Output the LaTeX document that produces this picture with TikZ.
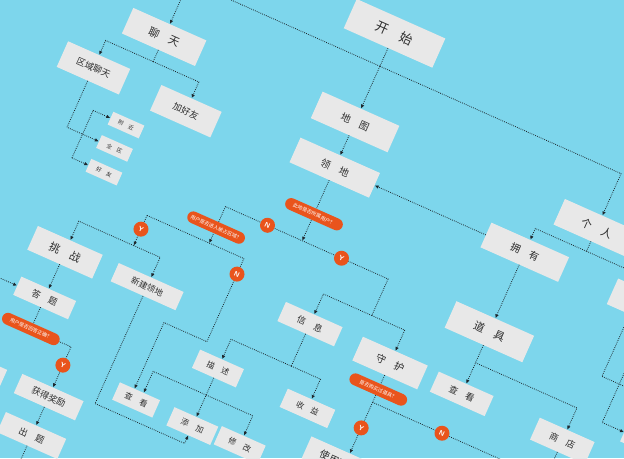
\documentclass[tikz,border=0pt]{standalone}
\usepackage{fontspec}
\setmainfont{Noto Sans CJK SC}
\usetikzlibrary{arrows.meta}
\definecolor{tianlan}{RGB}{125,214,236}
\definecolor{huibai}{RGB}{232,232,232}
\definecolor{juhong}{RGB}{233,84,28}
\definecolor{shenhui}{RGB}{45,45,45}
\definecolor{xianse}{RGB}{30,40,46}
\newcommand\zigap{\hspace{1em}}
\tikzset{
  kuang/.style n args={3}{fill=huibai,inner sep=0pt,text=shenhui,minimum width=#1pt,minimum height=#2pt,font=\fontsize{#3}{#3}\selectfont},
  pill/.style={fill=juhong,rounded corners=6pt,inner sep=0pt,minimum width=62pt,minimum height=12pt,text=white,font=\fontsize{5}{5}\selectfont},
  yn/.style={circle,fill=juhong,inner sep=0pt,minimum size=15pt,text=white,font=\sffamily\bfseries\fontsize{7}{7}\selectfont},
  link/.style={draw=xianse,line width=0.8pt,dash pattern=on 0.8pt off 1.2pt},
  arr/.style={link,-{Latex[length=4pt,width=3.6pt]}},
}
\begin{document}
\begin{tikzpicture}[x=1pt,y=1pt]
\useasboundingbox(0,-458)rectangle(624,0);
\clip(0,-458)rectangle(624,0);
\fill[tianlan](0,-458)rectangle(624,0);
\begin{scope}[transform canvas={rotate=-24}]
  %判断框与Y/N的位置
  \coordinate(cq1)at(374,-68);
  \coordinate(cq2)at(290,-120);
  \coordinate(cq3)at(162,-288);
  \coordinate(cq4)at(504,-202);
  \coordinate(cn1)at(336,-97);
  \coordinate(cy1)at(417,-97);
  \coordinate(cn2)at(328,-154);
  \coordinate(cy2)at(222,-152);
  \coordinate(cy3)at(206,-308);
  \coordinate(cy4)at(504,-244);
  \coordinate(cn4)at(580,-216);
  %分叉点
  \coordinate(cb0)at(374,94);
  \coordinate(cb1)at(165,6);
  \coordinate(cf)at(130,-115);
  \coordinate(cj1)at(468,-137);
  \coordinate(cb2)at(222,-137);
  \coordinate(cb3)at(222,-170);
  \coordinate(cl1)at(281,-228);
  \coordinate(cb4)at(415,-216);
  \coordinate(cb5)at(349,-277);
  \coordinate(cb6)at(504,-216);
  \coordinate(cb7)at(638,9);
  \coordinate(cb8)at(582,-138);
  \coordinate(cb9)at(251,-330);
  \coordinate(ra)at(742,-99);
  \coordinate(lin)at(60,-254);

  %方框
  \node[kuang={97}{32}{13}](kaishi)at(374,130){开\zigap 始};
  \node[kuang={80}{28}{11}](liaotian)at(165,33){聊\zigap 天};
  \node[kuang={68}{28}{9}](quyu)at(113,-24){区域聊天};
  \node[kuang={66}{28}{9}](jiahaoyou)at(215,-26){加好友};
  \node[kuang={34}{14}{5.5}](fujin)at(166,-63){附\zigap 近};
  \node[kuang={34}{14}{5.5}](quanqu)at(165,-89){全\zigap 区};
  \node[kuang={34}{14}{5.5}](haoyou)at(165,-115){好\zigap 友};
  \node[kuang={84}{29}{10}](ditu)at(374,33){地\zigap 图};
  \node[kuang={87}{27}{10}](lingdi)at(374,-17){领\zigap 地};
  \node[kuang={82}{28}{11}](geren)at(638,34){个\zigap 人};
  \node[kuang={85}{27}{10}](yongyou)at(582,-17){拥\zigap 有};
  \node[kuang={84}{28}{10}](r1)at(720,-17){};
  \node[kuang={85}{29}{11}](daoju)at(582,-104){道\zigap 具};
  \node[kuang={60}{22}{9}](chakan2)at(582,-172){查\zigap 看};
  \node[kuang={60}{24}{9}](shangdian)at(693,-174){商\zigap 店};
  \node[kuang={48}{20}{8}](rb)at(770,-141){};
  \node[kuang={62}{21}{9}](xinxi)at(415,-170){信\zigap 息};
  \node[kuang={71}{26}{10}](shouhu)at(504,-173){守\zigap 护};
  \node[kuang={52}{20}{8}](shouyi)at(447,-248){收\zigap 益};
  \node[kuang={48}{20}{8}](miaoshu)at(349,-248){描\zigap 述};
  \node[kuang={48}{20}{8}](tianjia)at(349,-311){添\zigap 加};
  \node[kuang={48}{20}{8}](xiugai)at(400,-309){修\zigap 改};
  \node[kuang={44}{19}{8}](chakan1)at(287,-310){查\zigap 看};
  \node[kuang={71}{20}{8.5}](xinjian)at(251,-202){新建领地};
  \node[kuang={71}{26}{11}](tiaozhan)at(162,-204){挑\zigap 战};
  \node[kuang={60}{20}{9}](dati)at(162,-254){答\zigap 题};
  \node[kuang={67}{21}{9}](jiangli)at(206,-343){获得奖励};
  \node[kuang={66}{22}{9}](chuti)at(206,-385){出\zigap 题};
  \node[kuang={70}{24}{10}](shiyong)at(497,-284){使用道具};
  \node[kuang={70}{20}{9}](l1)at(122,-345){};

  %开始
  \path[draw,arr](kaishi.south)to(ditu.north);
  \path[draw,arr](cb0)-|(liaotian.north);
  \path[draw,arr](cb0)-|(geren.north);
  %聊天
  \path[draw,link](liaotian.south)--(cb1);
  \path[draw,arr](cb1)-|(quyu.north);
  \path[draw,arr](cb1)-|(jiahaoyou.north);
  \path[draw,arr](quyu.south)|-(quanqu.west);
  \path[draw,arr](cf)|-(fujin.west);
  \path[draw,arr](cf)--(haoyou.west);
  %领地
  \path[draw,arr](ditu.south)to(lingdi.north);
  \path[draw,arr](lingdi.south)--(lingdi.south|-cn1);
  \path[draw,arr](cn1)-|(cq2)--(cq2|-cb2);
  \path[draw,link](cn1)--(cy1)-|(cj1);
  \path[draw,arr](cj1)-|(xinxi.north);
  \path[draw,arr](cj1)-|(shouhu.north);
  %被占区域
  \path[draw,link](cb2)--(cb2-|cn2);
  \path[draw,arr](cb2-|cn2)--(cn2)|-(cl1)--([xshift=-6pt]chakan1.north);
  \path[draw,arr](cb2)--(cy2)--(cb3);
  \path[draw,arr](cb3)-|(tiaozhan.north);
  \path[draw,arr](cb3)-|(xinjian.north);
  \path[draw,arr](xinjian.south)--(cb9)-|(tianjia.south);
  %信息
  \path[draw,link](xinxi.south)--(cb4);
  \path[draw,arr](cb4)-|(miaoshu.north);
  \path[draw,arr](cb4)-|(shouyi.north);
  \path[draw,arr](miaoshu.south)to(tianjia.north);
  \path[draw,arr](cb5)-|([xshift=4pt]chakan1.north);
  \path[draw,arr](cb5)-|(xiugai.north);
  %守护
  \path[draw,link](shouhu.south)--(cb6);
  \path[draw,arr](cb6)--(cb6|-shiyong.north);
  \path[draw,link](cb6)-|(shangdian.south);
  %个人
  \path[draw,link](geren.south)--(cb7);
  \path[draw,arr](cb7)-|(yongyou.north);
  \path[draw,arr](cb7)-|(r1.north);
  \path[draw,arr](yongyou.west)to(lingdi.east);
  \path[draw,arr](yongyou.south)to(daoju.north);
  \path[draw,arr](daoju.south)to(chakan2.north);
  \path[draw,arr](cb8)-|(shangdian.north);
  \path[draw,arr]([xshift=-17pt]r1.south)|-(ra);
  \path[draw,arr]([xshift=2pt]r1.south)|-(rb.west);
  %挑战
  \path[draw,arr](lin)to(dati.west);
  \path[draw,arr](tiaozhan.south)to(dati.north);
  \path[draw,arr](dati.south)--(cq3)-|(jiangli.north);
  \path[draw,arr](jiangli.south)to(chuti.north);
  \path[draw,link](chuti.south)--++(0,-40);

  %判断
  \node[pill](q1)at(cq1){此地是否所属用户？};
  \node[pill](q2)at(cq2){用户是否进入被占区域？};
  \node[pill](q3)at(cq3){用户是否回答正确？};
  \node[pill](q4)at(cq4){是否购买过道具？};
  \node[yn](n1)at(cn1){N};
  \node[yn](y1)at(cy1){Y};
  \node[yn](n2)at(cn2){N};
  \node[yn](y2)at(cy2){Y};
  \node[yn](y3)at(cy3){Y};
  \node[yn](y4)at(cy4){Y};
  \node[yn](n4)at(cn4){N};
\end{scope}
\end{tikzpicture}
\end{document}
